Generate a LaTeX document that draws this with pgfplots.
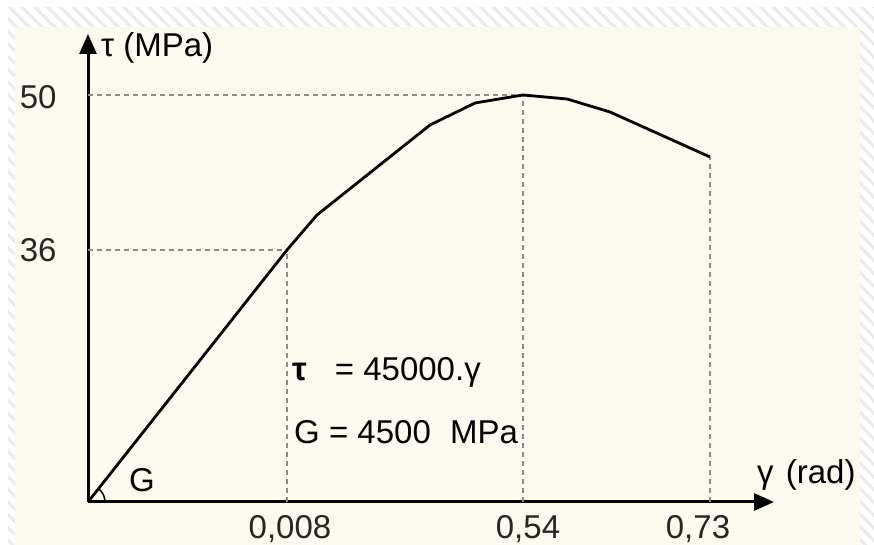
\documentclass[border=0pt]{standalone}
\usepackage{pgfplots}
\pgfplotsset{compat=1.18}
\usepackage{fontspec}
\setmainfont{Liberation Sans}
\usetikzlibrary{arrows.meta,patterns.meta}
\definecolor{cream}{HTML}{FCFAEE}
\definecolor{hatch}{HTML}{EBEBEB}
\definecolor{dashgray}{HTML}{8C8C8C}
\begin{document}
\begin{tikzpicture}[x=1pt,y=1pt]
\path[use as bounding box] (0,0) rectangle (874,545);
\fill[white] (0,0) rectangle (874,545);
\fill[pattern={Lines[angle=-45,distance=9pt,line width=3pt]},pattern color=hatch] (8,0) rectangle (874,537);
\fill[cream] (15,0) rectangle (860,518);
\begin{axis}[
  at={(88pt,43pt)}, anchor=south west,
  x=1pt, y=1pt,
  xmin=88, xmax=774, ymin=43, ymax=511,
  axis x line=bottom, axis y line=left,
  axis line style={line width=3pt,-{Triangle[length=20pt,width=17pt]}},
  xtick={290,528,698}, xticklabels={{0,008},{0,54},{0,73}},
  ytick={295,448}, yticklabels={36,50},
  major tick length=0pt,
  tick label style={font=\fontsize{33}{37}\selectfont, text=black!85},
  xticklabel style={yshift=-10pt},
  yticklabel style={xshift=-28pt},
  clip=false,
  /pgf/number format/assume math mode=true,
]
% reference lines
\addplot[dashgray, line width=1.3pt, dash pattern=on 5pt off 4pt] coordinates {(88,450) (523,450)};
\addplot[dashgray, line width=1.3pt, dash pattern=on 5pt off 4pt] coordinates {(88,295) (287,295)};
\addplot[dashgray, line width=1.3pt, dash pattern=on 5pt off 4pt] coordinates {(287,43) (287,295)};
\addplot[dashgray, line width=1.3pt, dash pattern=on 5pt off 4pt] coordinates {(523,43) (523,450)};
\addplot[dashgray, line width=1.3pt, dash pattern=on 5pt off 4pt] coordinates {(710,43) (710,388)};
% curve
\addplot[black, line width=2.8pt, line join=round] coordinates {
 (88,43) (287,295) (317,330) (430,420) (475,442) (523,450) (567,446) (610,433) (710,388)};
% angle arc
\draw[line width=1.5pt] (axis cs:88,43) ++(0:17pt) arc[start angle=0,end angle=52,radius=17pt];
% texts
\node[anchor=west, inner sep=0pt, font=\fontsize{33}{37}\selectfont] at (axis cs:101,497) {τ (MPa)};
\node[anchor=west, inner sep=0pt, font=\fontsize{33}{37}\selectfont] at (axis cs:757,70) {γ\hspace{3pt} (rad)};
\node[anchor=west, inner sep=0pt, font=\fontsize{33}{37}\selectfont] at (axis cs:292,173) {\textbf{τ}\hspace{28pt}= 45000.γ};
\node[anchor=west, inner sep=0pt, font=\fontsize{33}{37}\selectfont] at (axis cs:294,113) {G = 4500\hspace{10pt} MPa};
\node[inner sep=0pt, font=\fontsize{33}{37}\selectfont] at (axis cs:142,65) {G};
\end{axis}
\end{tikzpicture}
\end{document}
